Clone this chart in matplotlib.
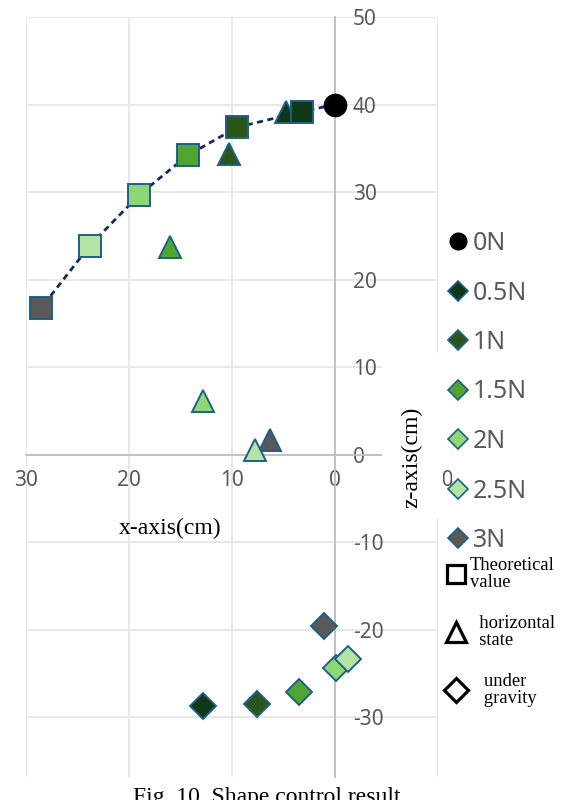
import numpy as np
import matplotlib.pyplot as plt
from matplotlib.lines import Line2D
from matplotlib.patches import Rectangle

# force levels and their colours
forces = ['0N', '0.5N', '1N', '1.5N', '2N', '2.5N', '3N']
colors = ['#000000', '#0f3817', '#2b561b', '#4ea52f', '#8ed776', '#b4e4a3', '#595959']

# theoretical shape (0N .. 3N)
theory_x = [0.0, 3.2, 9.5, 14.3, 19.0, 23.8, 28.5]
theory_z = [40.0, 39.2, 37.4, 34.2, 29.7, 23.9, 16.8]

# horizontal state (0.5N .. 3N)
horiz_x = [4.8, 10.3, 16.0, 12.8, 7.8, 6.3]
horiz_z = [39.2, 34.3, 23.7, 6.1, 0.6, 1.7]

# under gravity (0.5N .. 3N)
grav_x = [12.8, 7.6, 3.5, -0.1, -1.3, 1.1]
grav_z = [-28.7, -28.5, -27.1, -24.3, -23.3, -19.5]

x_ticks = [30, 20, 10, 0, -10]
z_ticks = [50, 40, 30, 20, 10, 0, -10, -20, -30]

edge = '#1f5f8b'
sans = 'Noto Sans'
serif = 'Liberation Serif'

W, H = 564, 800
fig = plt.figure(figsize=(W / 100, H / 100), dpi=100)
ax = fig.add_axes([26 / W, 1 - 777 / H, (438 - 26) / W, (777 - 17) / H])
ax.set_xlim(30, -10)
ax.set_ylim(-36.8, 50)

ax.plot(theory_x, theory_z, color='#15295a', lw=2.0, ls=(0, (2.2, 1.6)), zorder=2)

# triangles first, so squares sit on top
for i in reversed(range(len(horiz_x))):
    ax.plot(horiz_x[i], horiz_z[i], marker='^', ms=16, mfc=colors[i + 1],
            mec=edge, mew=1.4, ls='none', zorder=3)
for i in range(1, len(theory_x)):
    ax.plot(theory_x[i], theory_z[i], marker='s', ms=16, mfc=colors[i],
            mec=edge, mew=1.4, ls='none', zorder=4)
for i in range(len(grav_x)):
    ax.plot(grav_x[i], grav_z[i], marker='D', ms=13, mfc=colors[i + 1],
            mec=edge, mew=1.4, ls='none', zorder=4)
ax.plot(theory_x[0], theory_z[0], marker='o', ms=16, color='black', ls='none', zorder=5)

# axes through the origin
for s in ['top', 'left']:
    ax.spines[s].set_visible(False)
ax.spines['right'].set_position(('data', 0))
ax.spines['bottom'].set_position(('data', 0))
ax.spines['right'].set_color('#bfbfbf')
ax.spines['bottom'].set_color('#bfbfbf')
ax.spines['right'].set_linewidth(1.3)
ax.spines['bottom'].set_linewidth(1.3)
ax.yaxis.tick_right()
ax.set_xticks(x_ticks)
ax.set_yticks(z_ticks)
ax.set_xticklabels([str(v) for v in x_ticks])
ax.set_yticklabels([str(v) for v in z_ticks])
ax.tick_params(length=0, labelcolor='#595959', labelsize=15)
ax.tick_params(axis='x', pad=11)
ax.tick_params(axis='y', pad=13)
for lab in ax.get_xticklabels() + ax.get_yticklabels():
    lab.set_family(sans)
ax.grid(True, color='#e6e6e6', lw=1.3)
ax.set_axisbelow(True)

fig.text(170 / W, 1 - 528 / H, 'x-axis(cm)', ha='center', va='center',
         family=serif, fontsize=17)

# white boxes behind the z label and the legend
fig.add_artist(Rectangle((382 / W, 1 - 518 / H), (443 - 382) / W, (518 - 353) / H,
                         transform=fig.transFigure, facecolor='white',
                         edgecolor='none', zorder=2))
fig.add_artist(Rectangle((452 / W, 1 - 520 / H), (W - 452) / W, (520 - 350) / H,
                         transform=fig.transFigure, facecolor='white',
                         edgecolor='none', zorder=2))
fig.text(412 / W, 1 - 457 / H, 'z-axis(cm)', ha='center', va='center', rotation=90,
         family=serif, fontsize=17, zorder=3)

# force legend
handles = [Line2D([], [], marker='o', ms=12, color='black', ls='none')]
for c in colors[1:]:
    handles.append(Line2D([], [], marker='D', ms=10, mfc=c, mec=edge, mew=1.2, ls='none'))
leg1 = fig.legend(handles, forces, loc='center left', bbox_to_anchor=(442 / W, 1 - 392 / H),
                  frameon=False, borderaxespad=0, borderpad=0.2, handlelength=0.9,
                  handletextpad=0.15, labelspacing=0.98,
                  prop={'family': sans, 'size': 18})
for t in leg1.get_texts():
    t.set_color('#595959')
leg1.set_zorder(4)

# shape legend
shape_handles = [
    Line2D([], [], marker='s', ms=13, mfc='white', mec='black', mew=2.3, ls='none'),
    Line2D([], [], marker='^', ms=15, mfc='white', mec='black', mew=2.3, ls='none'),
    Line2D([], [], marker='D', ms=12, mfc='white', mec='black', mew=2.3, ls='none'),
]
shape_labels = ['Theoretical\nvalue', '  horizontal\n  state', '   under\n   gravity']
leg2 = fig.legend(shape_handles, shape_labels, loc='center left',
                  bbox_to_anchor=(444 / W, 1 - 632 / H), frameon=False,
                  borderaxespad=0, borderpad=0.2, handlelength=0.9, handletextpad=0.3,
                  labelspacing=1.26, prop={'family': serif, 'size': 13.4})
for t in leg2.get_texts():
    t.set_linespacing(1.05)

fig.text(133 / W, 1 - 787 / H, 'Fig. 10. Shape control result', ha='left', va='top',
         family=serif, fontsize=17)

fig.savefig('out.png', dpi=100)
